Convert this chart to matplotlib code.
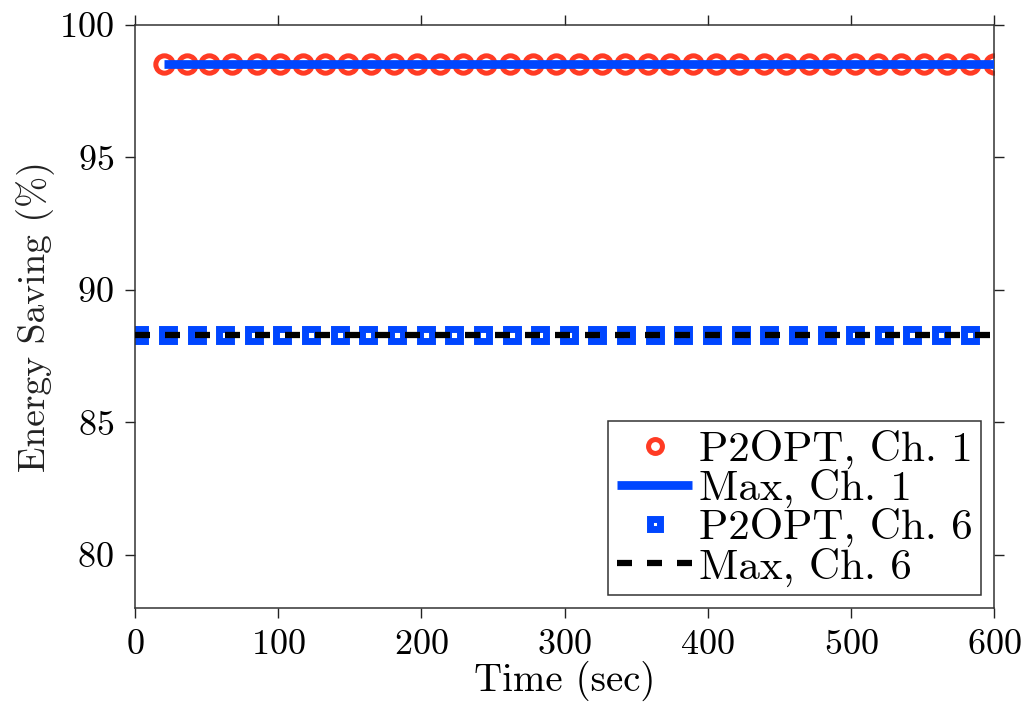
import matplotlib
matplotlib.use("Agg")
import matplotlib.pyplot as plt

# data
time_ch1 = [20, 36, 52, 68, 85, 101, 117, 133, 149, 165, 181, 197, 213, 229,
            245, 262, 278, 294, 310, 326, 342, 358, 374, 390, 406, 422, 439,
            455, 471, 487, 503, 519, 535, 551, 567, 583, 600]
p2opt_ch1 = [98.5] * len(time_ch1)

time_ch6 = [3, 23, 43, 63, 83, 103, 123, 143, 163, 183, 203, 223, 243, 263,
            283, 303, 323, 343, 363, 383, 403, 423, 443, 463, 483, 503, 523,
            543, 563, 583]
p2opt_ch6 = [88.3] * len(time_ch6)

max_ch1_t = [20, 600]
max_ch1 = [98.5, 98.5]
max_ch6_t = [0, 600]
max_ch6 = [88.3, 88.3]

xticks = [0, 100, 200, 300, 400, 500, 600]
yticks = [80, 85, 90, 95, 100]

plt.rcParams['font.family'] = ['cmr10', 'DejaVu Serif']
plt.rcParams['axes.formatter.use_mathtext'] = True
plt.rcParams['mathtext.fontset'] = 'cm'

fig = plt.figure(figsize=(10.28, 7.12), dpi=100)
ax = fig.add_axes([0.1313, 0.146, 0.967 - 0.1313, 0.9653 - 0.146])

red = '#ff3b24'
blue = '#0046ff'

ax.plot(time_ch1, p2opt_ch1, 'o', ls='none', ms=12.5, mew=3.6,
        mec=red, mfc='white', label='P2OPT, Ch. 1', zorder=2)
ax.plot(max_ch1_t, max_ch1, '-', color=blue, lw=6.3, label='Max, Ch. 1',
        zorder=3, solid_capstyle='butt')
ax.plot(time_ch6, p2opt_ch6, 's', ls='none', ms=9, mew=5,
        mec=blue, mfc='white', label='P2OPT, Ch. 6', zorder=2)
ax.plot(max_ch6_t, max_ch6, color='black', lw=4.5, ls=(0, (2.4, 2.4)),
        label='Max, Ch. 6', zorder=3)

ax.set_xlim(0, 600)
ax.set_ylim(78, 100)
ax.set_xticks(xticks)
ax.set_yticks(yticks)
ax.tick_params(direction='out', length=7, width=1, top=True, right=True,
               labelsize=26, pad=8, colors='#222222', labelcolor='black')
for s in ax.spines.values():
    s.set_linewidth(1.1)
    s.set_color('#333333')

ax.set_xlabel('Time (sec)', fontsize=28, labelpad=0)
ax.set_ylabel('Energy Saving (%)', fontsize=27, labelpad=3, color='#222222')

leg = ax.legend(loc='lower right', fontsize=31, frameon=True, fancybox=False,
                edgecolor='#333333', framealpha=1, handlelength=1.75,
                handletextpad=0.15, labelspacing=0.0, borderpad=0.2,
                borderaxespad=0.3, markerscale=0.8)
leg.get_frame().set_linewidth(1.1)

fig.savefig('out.png', dpi=100)
